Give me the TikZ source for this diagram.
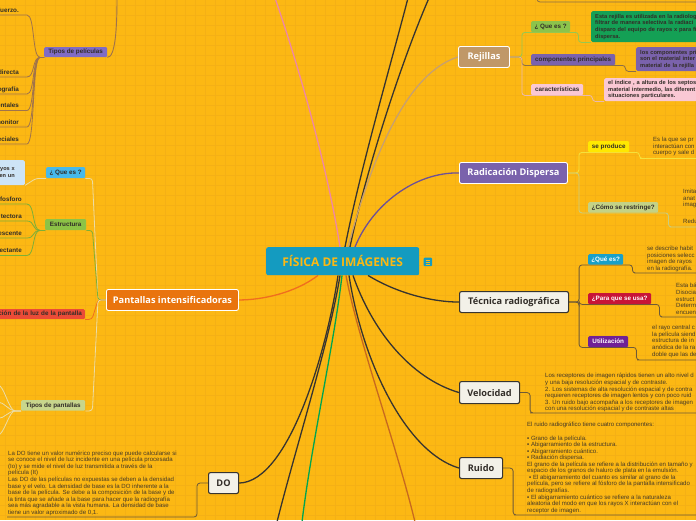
\documentclass[tikz,border=0pt]{standalone}
\usepackage{fontspec}
\setmainfont{Liberation Sans}
\newfontfamily\opensans{Open Sans}
\usetikzlibrary{calc}
\pgfdeclarelayer{bg}
\pgfdeclarelayer{lines}
\pgfsetlayers{bg,lines,main}
\definecolor{bgc}{RGB}{252,184,19}
\definecolor{gridc}{RGB}{244,176,22}
\definecolor{txt}{RGB}{50,45,40}
\definecolor{dtxt}{RGB}{70,58,38}
\definecolor{orangeP}{RGB}{233,116,14}
\definecolor{tanR}{RGB}{192,152,104}
\definecolor{purpR}{RGB}{122,98,172}
\definecolor{cream}{RGB}{243,241,232}
\definecolor{darkline}{RGB}{55,52,48}
\definecolor{teal1}{RGB}{20,155,192}
\definecolor{blueQ}{RGB}{70,185,235}
\definecolor{greenE}{RGB}{140,195,70}
\definecolor{redL}{RGB}{235,75,55}
\definecolor{olivePT}{RGB}{200,214,140}
\definecolor{purpTP}{RGB}{128,108,196}
\definecolor{lightblueD}{RGB}{205,228,246}
\definecolor{greenQ}{RGB}{140,195,75}
\definecolor{greenD}{RGB}{20,160,85}
\definecolor{pinkK}{RGB}{250,200,212}
\definecolor{yellowP}{RGB}{255,232,0}
\definecolor{oliveC}{RGB}{196,210,134}
\definecolor{blueT}{RGB}{25,160,200}
\definecolor{redT}{RGB}{200,20,55}
\definecolor{purpT}{RGB}{112,32,150}
\definecolor{cPink}{RGB}{240,135,165}
\definecolor{cDark}{RGB}{55,52,48}
\definecolor{cTan}{RGB}{200,160,110}
\definecolor{cPurp}{RGB}{110,80,150}
\definecolor{cGreenMain}{RGB}{0,165,80}
\definecolor{cBrownMain}{RGB}{200,105,30}
\definecolor{cOrange}{RGB}{240,110,30}
\definecolor{cGreenQ}{RGB}{150,200,80}
\definecolor{cBrown}{RGB}{140,110,70}
\definecolor{cPinkK}{RGB}{235,185,175}
\definecolor{cYellow}{RGB}{245,225,60}
\definecolor{cOlive}{RGB}{200,205,130}
\definecolor{cDark2}{RGB}{110,90,55}
\definecolor{cCream}{RGB}{235,220,165}
\definecolor{cGreenE}{RGB}{125,175,55}
\definecolor{cTP}{RGB}{160,115,75}
\tikzset{
  mainnode/.style={rounded corners=2pt, inner sep=0pt, anchor=north west,
    font=\opensans\bfseries\fontsize{9.2}{10}\selectfont},
  colmain/.style={mainnode, draw=white, line width=0.9pt, text=white},
  creammain/.style={mainnode, fill=cream, draw=darkline, line width=1.1pt, text=txt},
  lab/.style={rounded corners=1.2pt, inner sep=0pt, anchor=north west,
    font=\bfseries\fontsize{6.3}{7}\selectfont, text=txt},
  leaf/.style={inner sep=0pt, anchor=base east, font=\bfseries\fontsize{6.3}{7}\selectfont, text=txt},
  desc/.style={inner sep=0pt, anchor=north west, align=left,
    font=\fontsize{6.05}{6.55}\selectfont, text=dtxt},
  boxdesc/.style={anchor=north west, text width=130pt, align=left, inner xsep=4pt, inner ysep=0pt,
    rounded corners=1.5pt, font=\bfseries\fontsize{5.7}{6.6}\selectfont, text=txt},
  conn/.style={line width=0.8pt, rounded corners=3pt},
  mainconn/.style={line width=1.3pt},
}
\begin{document}
\begin{tikzpicture}[x=1pt,y=-1pt]
\useasboundingbox (0,0) rectangle (696,520);
\clip (0,0) rectangle (696,520);
\begin{pgfonlayer}{bg}
\fill[bgc] (0,0) rectangle (696,520);
\foreach \i in {5,15,...,695} \draw[gridc,line width=0.45pt] (\i,0) -- (\i,520);
\foreach \j in {5,15,...,515} \draw[gridc,line width=0.45pt] (0,\j) -- (696,\j);
\end{pgfonlayer}

% ---------- central node
\node[fill=teal1, rounded corners=2pt, minimum width=153pt, minimum height=28pt, inner sep=0pt,
  anchor=north west, text=bgc, font=\opensans\bfseries\fontsize{12}{14}\selectfont] (C) at (266,247) {FÍSICA DE IMÁGENES};
\node[fill=teal1, rounded corners=1pt, minimum size=8.5pt, inner sep=0pt, anchor=north west] (ic) at (423.5,257.5) {};
\draw[bgc, line width=0.7pt] ($(ic.center)+(-2.3,-2)$) -- ($(ic.center)+(2.3,-2)$);
\draw[bgc, line width=0.7pt] ($(ic.center)+(-2.3,0)$) -- ($(ic.center)+(2.3,0)$);
\draw[bgc, line width=0.7pt] ($(ic.center)+(-2.3,2)$) -- ($(ic.center)+(2.3,2)$);

% ---------- main topics
\node[colmain, fill=orangeP, minimum width=132pt, minimum height=21pt] (P) at (106,289) {Pantallas intensificadoras};
\node[colmain, fill=tanR, minimum width=51pt, minimum height=21pt] (R) at (458,46) {Rejillas};
\node[colmain, fill=purpR, minimum width=108pt, minimum height=21pt] (RD) at (459,162) {Radicación Dispersa};
\node[creammain, minimum width=109pt, minimum height=21pt] (T) at (459,291) {Técnica radiográfica};
\node[creammain, minimum width=60pt, minimum height=22pt] (V) at (459,381) {Velocidad};
\node[creammain, minimum width=43pt, minimum height=21pt] (Ru) at (459,457) {Ruido};
\node[creammain, minimum width=30pt, minimum height=21pt] (DO) at (208,472) {DO};

% ---------- off-canvas ends
\coordinate (topPink) at (275,-2);
\coordinate (topD1) at (408,-2);
\coordinate (topD2) at (429,-2);
\coordinate (botD) at (277,522);
\coordinate (botG) at (302,522);
\coordinate (botB) at (415,522);

\begin{pgfonlayer}{lines}
\draw[mainconn, cPink] ($(C.north west)+(74,0)$) .. controls (328,170) and (300,70) .. (topPink);
\draw[mainconn, cDark] ($(C.north west)+(79,0)$) .. controls (360,170) and (392,60) .. (topD1);
\draw[mainconn, cDark] ($(C.north west)+(84,0)$) .. controls (366,170) and (402,60) .. (topD2);
\draw[mainconn, cTan] ($(C.north west)+(82,0)$) .. controls (366,180) and (400,75) .. (R.west);
\draw[mainconn, cPurp] ($(C.north west)+(89,0)$) .. controls (372,205) and (415,172) .. (RD.west);
\draw[mainconn, cDark] ($(C.south west)+(102,0)$) .. controls (395,292) and (430,302) .. (T.west);
\draw[mainconn, cDark] ($(C.south west)+(87,0)$) .. controls (372,330) and (410,378) .. (V.west);
\draw[mainconn, cDark] ($(C.south west)+(83,0)$) .. controls (362,360) and (405,452) .. (Ru.west);
\draw[mainconn, cBrownMain] ($(C.south west)+(80,0)$) .. controls (358,340) and (395,440) .. (botB);
\draw[mainconn, cGreenMain] ($(C.south west)+(76,0)$) .. controls (334,345) and (312,440) .. (botG);
\draw[mainconn, cDark] ($(C.south west)+(74,0)$) .. controls (330,340) and (295,450) .. (botD);
\draw[mainconn, cDark] ($(C.south west)+(72,0)$) .. controls (328,345) and (290,482) .. (DO.east);
\draw[mainconn, cOrange] ($(C.south west)+(52,0)$) .. controls (295,293) and (262,300) .. (P.east);
\end{pgfonlayer}

% ---------- Tipos de películas (top left)
\node[lab, fill=purpTP, minimum width=63pt, minimum height=10pt] (tp) at (44,47) {Tipos de películas};
\coordinate (tptop) at (117,-2);
\coordinate (tp1u) at (27,15);
\coordinate (tp2u) at (27,77);
\coordinate (tp3u) at (27,94);
\coordinate (tp4u) at (27,110.5);
\coordinate (tp5u) at (27,127);
\coordinate (tp6u) at (27,144);
\node[leaf] (tp1) at (19,12) {fuerzo.};
\node[leaf] (tp2) at (19,74) {directa};
\node[leaf] (tp3) at (19,91) {ografía};
\node[leaf] (tp4) at (19,107.5) {entales};
\node[leaf] (tp5) at (19,124) {monitor};
\node[leaf] (tp6) at (19,141) {eciales};
\begin{pgfonlayer}{lines}
\draw[line width=0.9pt, cTP] (tp.south east) .. controls +(8,0) and +(0,30) .. (tptop);
\foreach \k in {1,...,6}
  \draw[line width=0.8pt, cTP] (tp.south west) -- ++(-4,0) .. controls +(-8,0) and +(8,0) .. (tp\k u) -- ++(-35,0);
\end{pgfonlayer}

% ---------- Pantallas intensificadoras subtree
\node[lab, fill=blueQ, minimum width=39pt, minimum height=11pt] (pq) at (46,167) {¿ Que es ?};
\node[fill=lightblueD, anchor=north east, minimum height=25pt, text width=40pt, align=right,
  inner xsep=10pt, inner ysep=0pt, rounded corners=1.5pt, font=\bfseries\fontsize{5.6}{6.4}\selectfont, text=txt] (pqd) at (25,160) {yos x\\en un};
\node[lab, fill=greenE, minimum width=41pt, minimum height=11pt] (pe) at (45,219) {Estructura};
\coordinate (pe1u) at (27,204);
\coordinate (pe2u) at (27,221);
\coordinate (pe3u) at (27,238);
\coordinate (pe4u) at (27,255.5);
\node[leaf] (pe1) at (22,201) {fosforo};
\node[leaf] (pe2) at (22,218) {tectora};
\node[leaf] (pe3) at (22,235) {escente};
\node[leaf] (pe4) at (22,252.5) {ectante};
\node[lab, fill=redL, anchor=north east, minimum height=10pt, text width=100pt, align=right, inner xsep=3pt] (pr) at (85,309) {ción de la luz de la pantalla};
\node[lab, fill=olivePT, minimum width=64pt, minimum height=10.5pt] (pt) at (21,400) {Tipos de pantallas};
\coordinate (pt1) at (-2,385);
\coordinate (pt2) at (-2,402);
\coordinate (pt3) at (-2,418.5);
\coordinate (pt4) at (-2,435);
\begin{pgfonlayer}{lines}
\draw[conn, cCream] (P.west) -- ++(-8,0) -- ($(pq.south east)+(7,0)$) -- (pq.south east);
\draw[conn, cCream] (pq.south west) -- ++(-10,0) -- (pqd.south east);
\draw[conn, cGreenE] (P.west) -- ++(-8,0) -- ($(pe.south east)+(6,0)$) -- (pe.south east);
\foreach \k in {1,...,4}
  \draw[line width=0.8pt, cGreenE] (pe.south west) -- ++(-5,0) .. controls +(-8,0) and +(8,0) .. (pe\k u) -- ++(-35,0);
\draw[conn, cOrange] (P.west) -- ++(-8,0) -- ($(pr.south east)+(7,0)$) -- (pr.south east);
\draw[conn, cCream] (P.west) -- ++(-8,0) -- ($(pt.south east)+(7,0)$) -- (pt.south east);
\foreach \k in {1,...,4}
  \draw[line width=0.8pt, cCream] (pt.south west) -- ++(-6,0) .. controls +(-6,0) and +(6,0) .. (pt\k);
\end{pgfonlayer}

% ---------- DO
\node[desc] (dod) at (8,450.6) {La DO tiene un valor numérico preciso que puede calcularse si\\
se conoce el nivel de luz incidente en una película procesada\\
(Io) y se mide el nivel de luz transmitida a través de la\\
película (It)\\
Las DO de las películas no expuestas se deben a la densidad\\
base y el velo. La densidad de base es la DO inherente a la\\
base de la película. Se debe a la composición de la base y de\\
la tinta que se añade a la base para hacer que la radiografía\\
sea más agradable a la vista humana. La densidad de base\\
tiene un valor aproximado de 0,1.};
\coordinate (dou) at (185,517);
\begin{pgfonlayer}{lines}
\draw[conn, cDark2] (DO.west) -- ++(-11,0) |- (dou) -- ++(-178,0);
\end{pgfonlayer}

% ---------- Rejillas
\node[lab, fill=greenQ, minimum width=39pt, minimum height=11pt] (rq) at (531,21) {¿ Que es ?};
\node[lab, fill=purpR, minimum width=84pt, minimum height=11pt] (rc) at (531,54) {componentes principales};
\node[lab, fill=pinkK, minimum width=52pt, minimum height=11pt] (rk) at (531,84) {características};
\node[boxdesc, fill=greenD, minimum height=31pt] (rqd) at (591,11) {Esta rejilla es utilizada en la radiolog\\filtrar de manera selectiva la radiaci\\disparo del equipo de rayos x para fi\\dispersa.};
\node[boxdesc, fill=purpR, minimum height=24pt] (rcd) at (636,47) {los componentes pri\\son el material inter\\material de la rejilla};
\node[boxdesc, fill=pinkK, minimum height=23pt] (rkd) at (604,78) {el índice , a altura de los septos\\material intermedio, las diferent\\situaciones particulares.};
\coordinate (tr1) at (537,-8);
\coordinate (tr2) at (545,2);
\begin{pgfonlayer}{lines}
\draw[conn, cGreenQ] (R.east) -- ++(12,0) |- (rq.south west) -- (rq.south east) -- ++(8,0) |- (rqd.south west);
\draw[conn, cBrown] (R.east) -- ++(12,0) |- (rc.south west) -- (rc.south east) -- ++(10,0) |- (rcd.south west);
\draw[conn, cPinkK] (R.east) -- ++(12,0) |- (rk.south west) -- (rk.south east) -- ++(9,0) |- (rkd.south west);
\draw[conn, cBrown] (tr1) |- (tr2) -- ++(160,0);
\end{pgfonlayer}

% ---------- Radicación Dispersa
\node[lab, fill=yellowP, minimum width=41pt, minimum height=11pt] (rdp) at (588,141) {se produce};
\node[desc] (rdpd) at (653,137.3) {Es la que se pr\\interactúan con\\cuerpo y sale d};
\coordinate (rdpu) at (643,158.5);
\node[lab, fill=oliveC, minimum width=70pt, minimum height=10.5pt] (rdc) at (588,202) {¿Cómo se restringe?};
\node[desc] (rdc1) at (683,189.3) {Imita\\anat\\imag};
\node[desc] (rdc2) at (683,219.3) {Redu};
\coordinate (rdc2u) at (673,227);
\begin{pgfonlayer}{lines}
\draw[conn, cYellow] (RD.east) -- ++(11,0) |- (rdp.south west) -- (rdp.south east) -- ++(10,0) |- (rdpu) -- ++(70,0);
\draw[conn, cOlive] (RD.east) -- ++(11,0) |- (rdc.south west) -- (rdc.south east) -- ++(10,0) |- (rdc2u) -- ++(40,0);
\end{pgfonlayer}

% ---------- Técnica radiográfica
\node[lab, fill=blueT, text=white, minimum width=35pt, minimum height=10.5pt] (tq) at (588,254) {¿Qué es?};
\node[lab, fill=redT, text=white, minimum width=63pt, minimum height=11pt] (tpu) at (588,293) {¿Para que se usa?};
\node[lab, fill=purpT, text=white, minimum width=40pt, minimum height=11pt] (tu) at (588,336) {Utilización};
\node[desc] (tqd) at (647,246.3) {se describe habit\\posiciones selecc\\imagen de rayos\\en la radiografía.};
\node[desc] (tpd) at (676,283.3) {Esta bá\\Disocia\\estruct\\Determ\\encuen};
\node[desc] (tud) at (652,325.3) {el rayo central c\\la película siend\\estructura de in\\anódica de la ra\\doble que las de};
\coordinate (tqu) at (637,273);
\coordinate (tpuu) at (664,317);
\coordinate (tuu) at (640,360);
\begin{pgfonlayer}{lines}
\draw[conn, cDark2] (T.east) -- ++(10,0) |- (tq.south west) -- (tq.south east) -- ++(9,0) |- (tqu) -- ++(80,0);
\draw[conn, cDark2] (T.east) -- ++(10,0) |- (tpu.south west) -- (tpu.south east) -- ++(8,0) |- (tpuu) -- ++(60,0);
\draw[conn, cDark2] (T.east) -- ++(10,0) |- (tu.south west) -- (tu.south east) -- ++(8,0) |- (tuu) -- ++(80,0);
\end{pgfonlayer}

% ---------- Velocidad
\node[desc] (vd) at (545,373.3) {Los receptores de imagen rápidos tienen un alto nivel d\\
y una baja resolución espacial y de contraste.\\
2. Los sistemas de alta resolución espacial y de contra\\
requieren receptores de imagen lentos y con poco ruid\\
3. Un ruido bajo acompaña a los receptores de imagen\\
con una resolución espacial y de contraste altas};
\coordinate (vu) at (533,413);
\begin{pgfonlayer}{lines}
\draw[conn, cDark2] (V.east) -- ++(10,0) |- (vu) -- ++(170,0);
\end{pgfonlayer}

% ---------- Ruido
\node[desc] (rud) at (527,422.3) {El ruido radiográfico tiene cuatro componentes:\\[6.55pt]
▪ Grano de la película.\\
▪ Abigarramiento de la estructura.\\
▪ Abigarramiento cuántico.\\
▪ Radiación dispersa.\\
El grano de la película se refiere a la distribución en tamaño y\\
espacio de los granos de haluro de plata en la emulsión.\\
\hspace*{2pt}▪ El abigarramiento del cuanto es similar al grano de la\\
película, pero se refiere al fósforo de la pantalla intensificado\\
de radiografías.\\
▪ El abigarramiento cuántico se refiere a la naturaleza\\
aleatoria del modo en que los rayos X interactúan con el\\
receptor de imagen.};
\coordinate (ruu) at (517,515);
\begin{pgfonlayer}{lines}
\draw[conn, cDark2] (Ru.east) -- ++(10,0) |- (ruu) -- ++(190,0);
\end{pgfonlayer}
\end{tikzpicture}
\end{document}
